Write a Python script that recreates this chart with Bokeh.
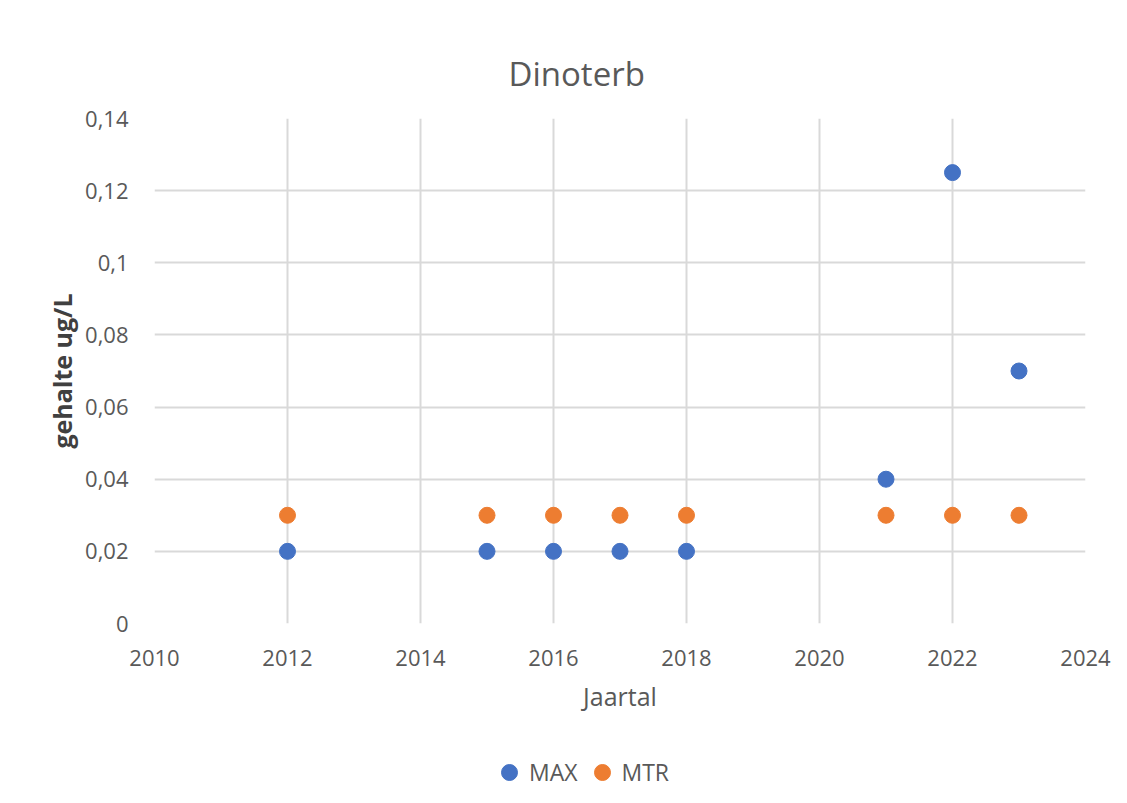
from bokeh.plotting import figure
from bokeh.layouts import column
from bokeh.models import ColumnDataSource, FixedTicker, Legend, LegendItem, Range1d, Title
from bokeh.embed import file_html
from bokeh.resources import INLINE

# ---- data ----
years_max = [2012, 2015, 2016, 2017, 2018, 2021, 2022, 2023]
values_max = [0.02, 0.02, 0.02, 0.02, 0.02, 0.04, 0.125, 0.07]
years_mtr = [2012, 2015, 2016, 2017, 2018, 2021, 2022, 2023]
values_mtr = [0.03, 0.03, 0.03, 0.03, 0.03, 0.03, 0.03, 0.03]
x_ticks = [2010, 2012, 2014, 2016, 2018, 2020, 2022, 2024]
y_ticks = [0, 0.02, 0.04, 0.06, 0.08, 0.1, 0.12, 0.14]
y_tick_labels = ["0", "0,02", "0,04", "0,06", "0,08", "0,1", "0,12", "0,14"]
title_text = "Dinoterb"
x_label = "Jaartal"
y_label = "gehalte ug/L"
series_names = ["MAX", "MTR"]

BLUE = "#4472C4"
ORANGE = "#ED7D31"
GRID = "#d9d9d9"
TEXT = "#595959"
FONT = "Open Sans"

p = figure(width=1111, height=752, output_backend="svg", toolbar_location=None,
           x_range=Range1d(2010, 2024), y_range=Range1d(0, 0.14),
           min_border_left=154, min_border_right=26, min_border_top=118,
           min_border_bottom=129)
p.title = None
p.add_layout(Title(text=title_text, align="left", text_font=FONT,
                   text_font_size="33px", text_font_style="normal",
                   text_color=TEXT, standoff=46, offset=354), "above")

p.outline_line_color = None
p.background_fill_color = "white"
p.border_fill_color = "white"

src_max = ColumnDataSource(dict(x=years_max, y=values_max))
src_mtr = ColumnDataSource(dict(x=years_mtr, y=values_mtr))
p.scatter("x", "y", source=src_max, size=16, color=BLUE, line_color=BLUE)
p.scatter("x", "y", source=src_mtr, size=16, color=ORANGE, line_color=ORANGE)

p.xaxis.ticker = FixedTicker(ticks=x_ticks)
p.yaxis.ticker = FixedTicker(ticks=y_ticks)
p.yaxis.major_label_overrides = {t: l for t, l in zip(y_ticks, y_tick_labels)}

for ax in (p.xaxis, p.yaxis):
    ax.axis_line_color = None
    ax.major_tick_line_color = None
    ax.minor_tick_line_color = None
    ax.major_label_text_font = FONT
    ax.major_label_text_font_size = "22px"
    ax.major_label_text_color = TEXT
    ax.axis_label_text_font = FONT
    ax.axis_label_text_color = TEXT

p.xaxis.major_label_standoff = 20
p.yaxis.major_label_standoff = 20
p.xaxis.axis_label = x_label
p.xaxis.axis_label_text_font_size = "25px"
p.xaxis.axis_label_text_font_style = "normal"
p.xaxis.axis_label_standoff = 10
p.yaxis.axis_label = y_label
p.yaxis.axis_label_text_font_size = "25px"
p.yaxis.axis_label_text_font_style = "bold"
p.yaxis.axis_label_text_color = "#404040"
p.yaxis.axis_label_standoff = 3

p.xgrid.grid_line_color = GRID
p.ygrid.grid_line_color = GRID
p.xgrid.grid_line_width = 2
p.ygrid.grid_line_width = 2

# legend strip below the chart
lg = figure(width=1111, height=40, output_backend="svg", toolbar_location=None,
            x_range=Range1d(0, 1), y_range=Range1d(0, 1),
            x_axis_type=None, y_axis_type=None,
            min_border_left=0, min_border_right=0, min_border_top=0, min_border_bottom=0)
lg.outline_line_color = None
lg.xgrid.visible = False
lg.ygrid.visible = False
lg.border_fill_color = "white"
l_max = lg.scatter("x", "y", source=src_max, size=16, color=BLUE, line_color=BLUE)
l_mtr = lg.scatter("x", "y", source=src_mtr, size=16, color=ORANGE, line_color=ORANGE)

legend = Legend(items=[LegendItem(label=series_names[0], renderers=[l_max]),
                       LegendItem(label=series_names[1], renderers=[l_mtr])],
                orientation="horizontal", location=(335, 0),
                label_text_font=FONT, label_text_font_size="23px",
                label_text_color=TEXT, border_line_color=None,
                background_fill_alpha=0, glyph_width=40, glyph_height=40,
                label_standoff=-4, spacing=4, margin=0, padding=0)
lg.add_layout(legend, "center")

layout = column(p, lg, spacing=0)
open("out.html", "w").write(file_html(layout, INLINE))
